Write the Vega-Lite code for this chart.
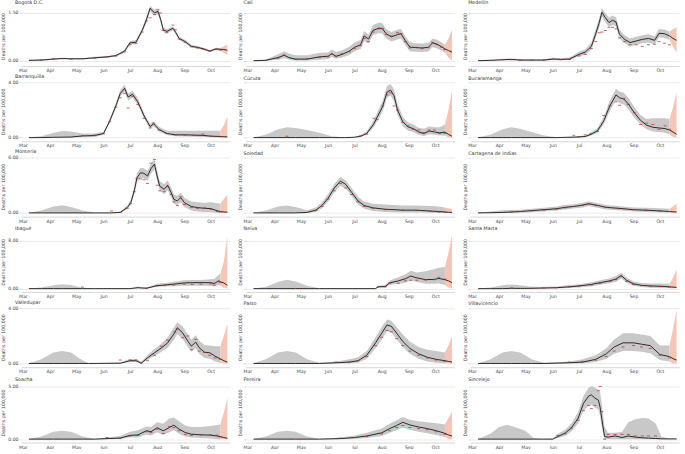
{
"$schema":"https://vega.github.io/schema/vega-lite/v6.json",
"padding":{"left":0,"top":0,"right":0,"bottom":0},
"data":{"format":{"parse":{"d":"date:'%m-%d'"}},"values":[
{"c":"BOG","d":"03-08","m":0.01,"lo":0,"hi":0.03},
{"c":"BOG","d":"03-22","m":0.02,"lo":0,"hi":0.04,"o":0.02},
{"c":"BOG","d":"04-05","m":0.05,"lo":0.03,"hi":0.08,"o":0.06},
{"c":"BOG","d":"04-15","m":0.07,"lo":0.05,"hi":0.09,"o":0.06},
{"c":"BOG","d":"04-25","m":0.06,"lo":0.04,"hi":0.08,"o":0.05},
{"c":"BOG","d":"05-08","m":0.06,"lo":0.04,"hi":0.08,"o":0.07},
{"c":"BOG","d":"05-22","m":0.09,"lo":0.07,"hi":0.12,"o":0.08},
{"c":"BOG","d":"06-05","m":0.12,"lo":0.09,"hi":0.15,"o":0.12},
{"c":"BOG","d":"06-15","m":0.16,"lo":0.12,"hi":0.19,"o":0.15},
{"c":"BOG","d":"06-25","m":0.3,"lo":0.25,"hi":0.35,"o":0.28},
{"c":"BOG","d":"07-01","m":0.56,"lo":0.5,"hi":0.62,"o":0.5},
{"c":"BOG","d":"07-08","m":0.58,"lo":0.52,"hi":0.65,"o":0.55},
{"c":"BOG","d":"07-15","m":0.95,"lo":0.88,"hi":1.03,"o":0.9},
{"c":"BOG","d":"07-20","m":1.3,"lo":1.2,"hi":1.4,"o":1.25},
{"c":"BOG","d":"07-24","m":1.65,"lo":1.55,"hi":1.72,"o":1.35},
{"c":"BOG","d":"07-29","m":1.5,"lo":1.42,"hi":1.6,"o":1.45},
{"c":"BOG","d":"08-02","m":1.55,"lo":1.45,"hi":1.65,"o":1.6},
{"c":"BOG","d":"08-05","m":1.3,"lo":1.2,"hi":1.4,"o":1.5},
{"c":"BOG","d":"08-08","m":0.97,"lo":0.9,"hi":1.05,"o":0.95},
{"c":"BOG","d":"08-12","m":0.92,"lo":0.86,"hi":0.99,"o":0.88},
{"c":"BOG","d":"08-19","m":1.02,"lo":0.95,"hi":1.08,"o":1.12},
{"c":"BOG","d":"08-22","m":0.9,"lo":0.84,"hi":0.96,"o":0.97},
{"c":"BOG","d":"08-26","m":0.7,"lo":0.65,"hi":0.76,"o":0.68},
{"c":"BOG","d":"09-02","m":0.6,"lo":0.55,"hi":0.65,"o":0.58},
{"c":"BOG","d":"09-09","m":0.45,"lo":0.41,"hi":0.5,"o":0.44},
{"c":"BOG","d":"09-16","m":0.42,"lo":0.38,"hi":0.46,"o":0.4},
{"c":"BOG","d":"09-23","m":0.37,"lo":0.33,"hi":0.41,"o":0.36},
{"c":"BOG","d":"09-30","m":0.3,"lo":0.27,"hi":0.34,"o":0.3},
{"c":"BOG","d":"10-07","m":0.37,"lo":0.33,"hi":0.41,"o":0.36},
{"c":"BOG","d":"10-12","m":0.36,"lo":0.32,"hi":0.4,"fl":0.32,"fh":0.4,"o":0.33},
{"c":"BOG","d":"10-16","m":0.35,"fl":0.25,"fh":0.45},
{"c":"BOG","d":"10-20","m":0.33,"fl":0.18,"fh":0.5},
{"c":"CAL","d":"03-08","m":0,"lo":0,"hi":0.01},
{"c":"CAL","d":"03-22","m":0.01,"lo":0,"hi":0.04,"o":0.01},
{"c":"CAL","d":"04-05","m":0.1,"lo":0.03,"hi":0.2,"o":0.08},
{"c":"CAL","d":"04-12","m":0.17,"lo":0.08,"hi":0.3,"o":0.18},
{"c":"CAL","d":"04-18","m":0.09,"lo":0.03,"hi":0.22,"o":0.1},
{"c":"CAL","d":"04-25","m":0.05,"lo":0,"hi":0.17,"o":0.04},
{"c":"CAL","d":"05-08","m":0.05,"lo":0,"hi":0.17,"o":0.06},
{"c":"CAL","d":"05-22","m":0.12,"lo":0.03,"hi":0.25,"o":0.1},
{"c":"CAL","d":"06-01","m":0.14,"lo":0.05,"hi":0.26,"o":0.12},
{"c":"CAL","d":"06-05","m":0.22,"lo":0.12,"hi":0.35,"o":0.2},
{"c":"CAL","d":"06-10","m":0.14,"lo":0.06,"hi":0.27,"o":0.13},
{"c":"CAL","d":"06-17","m":0.2,"lo":0.1,"hi":0.33,"o":0.22},
{"c":"CAL","d":"06-25","m":0.3,"lo":0.18,"hi":0.44,"o":0.28},
{"c":"CAL","d":"07-01","m":0.42,"lo":0.3,"hi":0.57,"o":0.38},
{"c":"CAL","d":"07-08","m":0.5,"lo":0.37,"hi":0.65,"o":0.47},
{"c":"CAL","d":"07-12","m":0.78,"lo":0.62,"hi":0.93,"o":0.7},
{"c":"CAL","d":"07-17","m":0.68,"lo":0.53,"hi":0.82,"o":0.6},
{"c":"CAL","d":"07-22","m":0.95,"lo":0.8,"hi":1.12,"o":0.9},
{"c":"CAL","d":"07-29","m":1.03,"lo":0.87,"hi":1.2,"o":1.0},
{"c":"CAL","d":"08-02","m":1.0,"lo":0.85,"hi":1.17,"o":1.02},
{"c":"CAL","d":"08-06","m":0.85,"lo":0.7,"hi":1.0,"o":0.82},
{"c":"CAL","d":"08-12","m":0.75,"lo":0.6,"hi":0.9,"o":0.78},
{"c":"CAL","d":"08-19","m":0.82,"lo":0.67,"hi":0.97,"o":0.88},
{"c":"CAL","d":"08-23","m":0.85,"lo":0.7,"hi":1.0,"o":0.85},
{"c":"CAL","d":"08-28","m":0.62,"lo":0.48,"hi":0.77,"o":0.6},
{"c":"CAL","d":"09-02","m":0.43,"lo":0.3,"hi":0.58,"o":0.4},
{"c":"CAL","d":"09-09","m":0.41,"lo":0.28,"hi":0.55,"o":0.42},
{"c":"CAL","d":"09-16","m":0.4,"lo":0.27,"hi":0.54,"o":0.38},
{"c":"CAL","d":"09-23","m":0.42,"lo":0.29,"hi":0.56,"o":0.41},
{"c":"CAL","d":"09-28","m":0.56,"lo":0.42,"hi":0.7,"o":0.58},
{"c":"CAL","d":"10-03","m":0.52,"lo":0.38,"hi":0.66,"o":0.5},
{"c":"CAL","d":"10-08","m":0.44,"lo":0.31,"hi":0.58,"o":0.43},
{"c":"CAL","d":"10-12","m":0.37,"lo":0.25,"hi":0.5,"fl":0.25,"fh":0.5,"o":0.35},
{"c":"CAL","d":"10-16","m":0.32,"fl":0.1,"fh":0.7},
{"c":"CAL","d":"10-20","m":0.27,"fl":0,"fh":0.97},
{"c":"MED","d":"03-08","m":0,"lo":0,"hi":0.02},
{"c":"MED","d":"03-22","m":0.01,"lo":0,"hi":0.03,"o":0.01},
{"c":"MED","d":"04-05","m":0.03,"lo":0.01,"hi":0.06,"o":0.03},
{"c":"MED","d":"04-15","m":0.04,"lo":0.01,"hi":0.07,"o":0.03},
{"c":"MED","d":"04-25","m":0.02,"lo":0,"hi":0.05,"o":0.02},
{"c":"MED","d":"05-08","m":0.02,"lo":0,"hi":0.04,"o":0.02},
{"c":"MED","d":"05-22","m":0.02,"lo":0,"hi":0.04,"o":0.02},
{"c":"MED","d":"06-01","m":0.05,"lo":0.02,"hi":0.1,"o":0.04},
{"c":"MED","d":"06-10","m":0.04,"lo":0.01,"hi":0.08,"o":0.03},
{"c":"MED","d":"06-20","m":0.05,"lo":0.02,"hi":0.1,"o":0.04},
{"c":"MED","d":"07-01","m":0.2,"lo":0.13,"hi":0.28,"o":0.15},
{"c":"MED","d":"07-08","m":0.27,"lo":0.19,"hi":0.36,"o":0.2},
{"c":"MED","d":"07-15","m":0.45,"lo":0.35,"hi":0.57,"o":0.38},
{"c":"MED","d":"07-20","m":0.85,"lo":0.72,"hi":1.0,"o":0.6},
{"c":"MED","d":"07-24","m":1.2,"lo":1.05,"hi":1.35,"o":0.88},
{"c":"MED","d":"07-27","m":1.52,"lo":1.38,"hi":1.66,"o":0.9},
{"c":"MED","d":"07-31","m":1.35,"lo":1.2,"hi":1.5,"o":0.95},
{"c":"MED","d":"08-04","m":1.2,"lo":1.06,"hi":1.35,"o":1.05},
{"c":"MED","d":"08-08","m":1.27,"lo":1.12,"hi":1.42,"o":1.05},
{"c":"MED","d":"08-12","m":1.22,"lo":1.08,"hi":1.37,"o":1.0},
{"c":"MED","d":"08-16","m":0.83,"lo":0.7,"hi":0.97,"o":0.72},
{"c":"MED","d":"08-22","m":0.67,"lo":0.55,"hi":0.8,"o":0.6},
{"c":"MED","d":"08-28","m":0.57,"lo":0.45,"hi":0.7,"o":0.5},
{"c":"MED","d":"09-04","m":0.62,"lo":0.5,"hi":0.75,"o":0.5},
{"c":"MED","d":"09-11","m":0.67,"lo":0.55,"hi":0.8,"o":0.45},
{"c":"MED","d":"09-18","m":0.7,"lo":0.57,"hi":0.83,"o":0.5},
{"c":"MED","d":"09-25","m":0.64,"lo":0.52,"hi":0.77,"o":0.52},
{"c":"MED","d":"09-30","m":0.86,"lo":0.73,"hi":1.0,"o":0.6},
{"c":"MED","d":"10-06","m":0.85,"lo":0.72,"hi":0.98,"o":0.55},
{"c":"MED","d":"10-12","m":0.78,"lo":0.65,"hi":0.92,"fl":0.65,"fh":0.92,"o":0.5},
{"c":"MED","d":"10-16","m":0.7,"fl":0.45,"fh":1.0},
{"c":"MED","d":"10-20","m":0.64,"fl":0.25,"fh":1.05},
{"c":"BAQ","d":"03-08","m":0,"lo":0,"hi":0.02},
{"c":"BAQ","d":"03-22","m":0,"lo":0,"hi":0.1},
{"c":"BAQ","d":"04-05","m":0.02,"lo":0,"hi":0.35},
{"c":"BAQ","d":"04-15","m":0.03,"lo":0,"hi":0.48},
{"c":"BAQ","d":"04-25","m":0.04,"lo":0,"hi":0.45},
{"c":"BAQ","d":"05-08","m":0.12,"lo":0.02,"hi":0.3,"o":0.15},
{"c":"BAQ","d":"05-22","m":0.15,"lo":0.05,"hi":0.3,"o":0.18},
{"c":"BAQ","d":"06-01","m":0.3,"lo":0.2,"hi":0.42,"o":0.28},
{"c":"BAQ","d":"06-08","m":1.2,"lo":1.05,"hi":1.35,"o":1.15},
{"c":"BAQ","d":"06-15","m":2.3,"lo":2.1,"hi":2.5,"o":2.2},
{"c":"BAQ","d":"06-20","m":3.2,"lo":3.0,"hi":3.45,"o":2.9},
{"c":"BAQ","d":"06-25","m":3.58,"lo":3.35,"hi":3.85,"o":3.2},
{"c":"BAQ","d":"06-29","m":2.95,"lo":2.7,"hi":3.2,"o":2.15},
{"c":"BAQ","d":"07-04","m":3.15,"lo":2.9,"hi":3.4,"o":3.0},
{"c":"BAQ","d":"07-10","m":2.6,"lo":2.35,"hi":2.85,"o":2.4},
{"c":"BAQ","d":"07-17","m":1.6,"lo":1.4,"hi":1.8,"o":1.4},
{"c":"BAQ","d":"07-24","m":0.8,"lo":0.65,"hi":0.98,"o":0.7},
{"c":"BAQ","d":"07-28","m":1.0,"lo":0.85,"hi":1.18,"o":1.05},
{"c":"BAQ","d":"08-03","m":0.6,"lo":0.45,"hi":0.78,"o":0.55},
{"c":"BAQ","d":"08-12","m":0.3,"lo":0.18,"hi":0.5,"o":0.3},
{"c":"BAQ","d":"08-22","m":0.2,"lo":0.1,"hi":0.5,"o":0.2},
{"c":"BAQ","d":"09-02","m":0.2,"lo":0.08,"hi":0.5,"o":0.18},
{"c":"BAQ","d":"09-12","m":0.18,"lo":0.06,"hi":0.5,"o":0.15},
{"c":"BAQ","d":"09-22","m":0.16,"lo":0.05,"hi":0.5,"o":0.25},
{"c":"BAQ","d":"10-02","m":0.1,"lo":0.02,"hi":0.5,"o":0.1},
{"c":"BAQ","d":"10-12","m":0.08,"lo":0,"hi":0.5,"fl":0,"fh":0.5,"o":0.06},
{"c":"BAQ","d":"10-16","m":0.06,"fl":0,"fh":0.9},
{"c":"BAQ","d":"10-20","m":0.05,"fl":0,"fh":1.55},
{"c":"CUC","d":"03-08","m":0,"lo":0,"hi":0.02},
{"c":"CUC","d":"03-22","m":0,"lo":0,"hi":0.2},
{"c":"CUC","d":"04-05","m":0,"lo":0,"hi":0.6},
{"c":"CUC","d":"04-15","m":0,"lo":0,"hi":0.75,"o":0.1},
{"c":"CUC","d":"04-25","m":0,"lo":0,"hi":0.7},
{"c":"CUC","d":"05-08","m":0,"lo":0,"hi":0.55},
{"c":"CUC","d":"05-22","m":0,"lo":0,"hi":0.35},
{"c":"CUC","d":"06-05","m":0,"lo":0,"hi":0.1},
{"c":"CUC","d":"06-20","m":0,"lo":0,"hi":0.01},
{"c":"CUC","d":"07-01","m":0.02,"lo":0,"hi":0.06},
{"c":"CUC","d":"07-08","m":0.1,"lo":0.05,"hi":0.18,"o":0.12},
{"c":"CUC","d":"07-15","m":0.3,"lo":0.2,"hi":0.45,"o":0.25},
{"c":"CUC","d":"07-23","m":1.0,"lo":0.75,"hi":1.3,"o":1.4},
{"c":"CUC","d":"07-27","m":1.5,"lo":1.2,"hi":1.85,"o":1.3},
{"c":"CUC","d":"08-02","m":2.25,"lo":1.9,"hi":2.65,"o":2.3},
{"c":"CUC","d":"08-07","m":3.3,"lo":2.9,"hi":3.75,"o":3.1},
{"c":"CUC","d":"08-11","m":3.45,"lo":3.05,"hi":3.9,"o":3.25},
{"c":"CUC","d":"08-15","m":3.05,"lo":2.65,"hi":3.5,"o":2.3},
{"c":"CUC","d":"08-19","m":2.0,"lo":1.65,"hi":2.45,"o":2.0},
{"c":"CUC","d":"08-25","m":1.15,"lo":0.85,"hi":1.5,"o":1.1},
{"c":"CUC","d":"08-31","m":0.78,"lo":0.5,"hi":1.1,"o":0.85},
{"c":"CUC","d":"09-06","m":0.65,"lo":0.4,"hi":0.95,"o":0.6},
{"c":"CUC","d":"09-12","m":0.41,"lo":0.2,"hi":0.72,"o":0.55},
{"c":"CUC","d":"09-18","m":0.3,"lo":0.12,"hi":0.65,"o":0.35},
{"c":"CUC","d":"09-24","m":0.48,"lo":0.25,"hi":0.8,"o":0.55},
{"c":"CUC","d":"09-30","m":0.41,"lo":0.2,"hi":0.75,"o":0.55},
{"c":"CUC","d":"10-06","m":0.34,"lo":0.15,"hi":0.75,"o":0.3},
{"c":"CUC","d":"10-12","m":0.4,"lo":0.15,"hi":0.95,"fl":0.15,"fh":0.95,"o":0.3},
{"c":"CUC","d":"10-16","m":0.24,"fl":0,"fh":2.0},
{"c":"CUC","d":"10-20","m":0.1,"fl":0,"fh":3.4},
{"c":"BUC","d":"03-08","m":0,"lo":0,"hi":0.02},
{"c":"BUC","d":"03-22","m":0,"lo":0,"hi":0.2},
{"c":"BUC","d":"04-05","m":0,"lo":0,"hi":0.6},
{"c":"BUC","d":"04-15","m":0,"lo":0,"hi":0.75},
{"c":"BUC","d":"04-25","m":0,"lo":0,"hi":0.65},
{"c":"BUC","d":"05-08","m":0,"lo":0,"hi":0.4},
{"c":"BUC","d":"05-22","m":0,"lo":0,"hi":0.15},
{"c":"BUC","d":"06-05","m":0,"lo":0,"hi":0.02},
{"c":"BUC","d":"06-25","m":0.03,"lo":0,"hi":0.08,"o":0.17},
{"c":"BUC","d":"07-01","m":0.05,"lo":0,"hi":0.12,"o":0.05},
{"c":"BUC","d":"07-08","m":0.08,"lo":0.02,"hi":0.16,"o":0.2},
{"c":"BUC","d":"07-15","m":0.25,"lo":0.15,"hi":0.38,"o":0.3},
{"c":"BUC","d":"07-22","m":0.5,"lo":0.35,"hi":0.7,"o":0.45},
{"c":"BUC","d":"07-29","m":1.2,"lo":0.95,"hi":1.5,"o":1.6},
{"c":"BUC","d":"08-05","m":2.3,"lo":1.95,"hi":2.7,"o":2.3},
{"c":"BUC","d":"08-12","m":3.1,"lo":2.7,"hi":3.55,"o":2.6},
{"c":"BUC","d":"08-16","m":2.9,"lo":2.5,"hi":3.35,"o":2.35},
{"c":"BUC","d":"08-21","m":2.8,"lo":2.4,"hi":3.25,"o":2.85},
{"c":"BUC","d":"08-26","m":2.45,"lo":2.05,"hi":2.9,"o":2.4},
{"c":"BUC","d":"09-02","m":1.8,"lo":1.45,"hi":2.2,"o":1.8},
{"c":"BUC","d":"09-09","m":1.25,"lo":0.95,"hi":1.65,"o":0.95},
{"c":"BUC","d":"09-16","m":0.9,"lo":0.6,"hi":1.35,"o":1.05},
{"c":"BUC","d":"09-23","m":0.75,"lo":0.45,"hi":1.4,"o":0.95},
{"c":"BUC","d":"09-30","m":0.7,"lo":0.4,"hi":1.4,"o":0.6},
{"c":"BUC","d":"10-07","m":0.65,"lo":0.35,"hi":1.4,"o":0.85},
{"c":"BUC","d":"10-12","m":0.55,"lo":0.25,"hi":1.35,"fl":0.25,"fh":1.35,"o":0.6},
{"c":"BUC","d":"10-16","m":0.4,"fl":0.05,"fh":2.2},
{"c":"BUC","d":"10-20","m":0.25,"fl":0,"fh":3.3},
{"c":"MTR","d":"03-08","m":0,"lo":0,"hi":0.02},
{"c":"MTR","d":"03-22","m":0,"lo":0,"hi":0.25},
{"c":"MTR","d":"04-05","m":0,"lo":0,"hi":0.7},
{"c":"MTR","d":"04-15","m":0,"lo":0,"hi":0.82},
{"c":"MTR","d":"04-25","m":0,"lo":0,"hi":0.65},
{"c":"MTR","d":"05-08","m":0,"lo":0,"hi":0.25},
{"c":"MTR","d":"05-22","m":0,"lo":0,"hi":0.02},
{"c":"MTR","d":"06-10","m":0,"lo":0,"hi":0.02,"o":0.2},
{"c":"MTR","d":"06-20","m":0.05,"lo":0,"hi":0.15,"o":0.05},
{"c":"MTR","d":"06-28","m":0.58,"lo":0.4,"hi":0.8,"o":0.5},
{"c":"MTR","d":"07-02","m":1.1,"lo":0.85,"hi":1.4,"o":1.0},
{"c":"MTR","d":"07-06","m":2.4,"lo":2.0,"hi":2.85,"o":2.3},
{"c":"MTR","d":"07-09","m":3.8,"lo":3.3,"hi":4.3,"o":3.75},
{"c":"MTR","d":"07-13","m":4.35,"lo":3.8,"hi":4.9,"o":3.7},
{"c":"MTR","d":"07-17","m":4.3,"lo":3.75,"hi":4.85,"o":3.6},
{"c":"MTR","d":"07-21","m":4.0,"lo":3.45,"hi":4.55,"o":3.2},
{"c":"MTR","d":"07-25","m":4.8,"lo":4.25,"hi":5.35,"o":5.4},
{"c":"MTR","d":"07-29","m":5.3,"lo":4.75,"hi":5.85,"o":5.8},
{"c":"MTR","d":"08-01","m":4.0,"lo":3.45,"hi":4.6,"o":3.0},
{"c":"MTR","d":"08-04","m":2.9,"lo":2.4,"hi":3.45,"o":2.4},
{"c":"MTR","d":"08-09","m":2.56,"lo":2.05,"hi":3.1,"o":2.3},
{"c":"MTR","d":"08-13","m":3.0,"lo":2.45,"hi":3.55,"o":2.85},
{"c":"MTR","d":"08-17","m":2.2,"lo":1.7,"hi":2.75,"o":2.0},
{"c":"MTR","d":"08-20","m":1.48,"lo":1.0,"hi":2.0,"o":1.2},
{"c":"MTR","d":"08-24","m":1.3,"lo":0.85,"hi":1.85,"o":0.8},
{"c":"MTR","d":"08-28","m":1.66,"lo":1.15,"hi":2.2,"o":1.75},
{"c":"MTR","d":"09-01","m":1.12,"lo":0.65,"hi":1.65,"o":0.9},
{"c":"MTR","d":"09-09","m":0.69,"lo":0.25,"hi":1.25,"o":0.6},
{"c":"MTR","d":"09-16","m":0.58,"lo":0.15,"hi":1.15,"o":0.5},
{"c":"MTR","d":"09-24","m":0.5,"lo":0.1,"hi":1.1,"o":0.55},
{"c":"MTR","d":"10-01","m":0.47,"lo":0.08,"hi":1.15,"o":0.4},
{"c":"MTR","d":"10-09","m":0.22,"lo":0,"hi":1.05,"o":0.15},
{"c":"MTR","d":"10-12","m":0.15,"lo":0,"hi":1.0,"fl":0,"fh":1.0,"o":0.1},
{"c":"MTR","d":"10-16","m":0.1,"fl":0,"fh":1.5},
{"c":"MTR","d":"10-20","m":0.08,"fl":0,"fh":2.0},
{"c":"SOL","d":"03-08","m":0,"lo":0,"hi":0.02},
{"c":"SOL","d":"03-22","m":0,"lo":0,"hi":0.25},
{"c":"SOL","d":"04-05","m":0,"lo":0,"hi":0.7},
{"c":"SOL","d":"04-15","m":0,"lo":0,"hi":0.8},
{"c":"SOL","d":"04-25","m":0,"lo":0,"hi":0.65},
{"c":"SOL","d":"05-08","m":0.05,"lo":0,"hi":0.3},
{"c":"SOL","d":"05-18","m":0.3,"lo":0.1,"hi":0.6,"o":0.25},
{"c":"SOL","d":"05-25","m":0.8,"lo":0.5,"hi":1.15,"o":0.7},
{"c":"SOL","d":"06-01","m":1.6,"lo":1.2,"hi":2.05,"o":1.5},
{"c":"SOL","d":"06-08","m":2.7,"lo":2.25,"hi":3.15,"o":2.4},
{"c":"SOL","d":"06-15","m":3.45,"lo":2.95,"hi":3.9,"o":3.2},
{"c":"SOL","d":"06-21","m":3.1,"lo":2.65,"hi":3.55,"o":2.7},
{"c":"SOL","d":"06-28","m":2.2,"lo":1.75,"hi":2.65,"o":2.0},
{"c":"SOL","d":"07-05","m":1.3,"lo":0.9,"hi":1.75,"o":1.2},
{"c":"SOL","d":"07-12","m":0.8,"lo":0.45,"hi":1.25,"o":0.7},
{"c":"SOL","d":"07-22","m":0.55,"lo":0.2,"hi":1.0,"o":0.5},
{"c":"SOL","d":"08-05","m":0.4,"lo":0.1,"hi":0.9,"o":0.35},
{"c":"SOL","d":"08-25","m":0.3,"lo":0.05,"hi":0.8,"o":0.3},
{"c":"SOL","d":"09-10","m":0.3,"lo":0.05,"hi":0.8,"o":0.25},
{"c":"SOL","d":"09-25","m":0.2,"lo":0.02,"hi":0.75,"o":0.2},
{"c":"SOL","d":"10-05","m":0.15,"lo":0,"hi":0.7,"o":0.1},
{"c":"SOL","d":"10-12","m":0.1,"lo":0,"hi":0.6,"fl":0,"fh":0.6,"o":0.08},
{"c":"SOL","d":"10-16","m":0.07,"fl":0,"fh":0.5},
{"c":"SOL","d":"10-20","m":0.05,"fl":0,"fh":0.45},
{"c":"CTG","d":"03-08","m":0,"lo":0,"hi":0.02},
{"c":"CTG","d":"03-22","m":0.02,"lo":0,"hi":0.15},
{"c":"CTG","d":"04-05","m":0.05,"lo":0,"hi":0.3},
{"c":"CTG","d":"04-15","m":0.1,"lo":0,"hi":0.35,"o":0.1},
{"c":"CTG","d":"04-25","m":0.15,"lo":0.02,"hi":0.35,"o":0.15},
{"c":"CTG","d":"05-08","m":0.25,"lo":0.08,"hi":0.45,"o":0.22},
{"c":"CTG","d":"05-22","m":0.35,"lo":0.15,"hi":0.55,"o":0.3},
{"c":"CTG","d":"06-05","m":0.45,"lo":0.25,"hi":0.7,"o":0.4},
{"c":"CTG","d":"06-15","m":0.6,"lo":0.38,"hi":0.85,"o":0.55},
{"c":"CTG","d":"06-25","m":0.7,"lo":0.48,"hi":0.95,"o":0.7},
{"c":"CTG","d":"07-05","m":0.85,"lo":0.6,"hi":1.1,"o":0.8},
{"c":"CTG","d":"07-12","m":1.0,"lo":0.75,"hi":1.25,"o":0.95},
{"c":"CTG","d":"07-20","m":0.85,"lo":0.6,"hi":1.1,"o":0.8},
{"c":"CTG","d":"08-01","m":0.6,"lo":0.38,"hi":0.85,"o":0.6},
{"c":"CTG","d":"08-15","m":0.5,"lo":0.28,"hi":0.75,"o":0.45},
{"c":"CTG","d":"09-01","m":0.35,"lo":0.15,"hi":0.6,"o":0.35},
{"c":"CTG","d":"09-15","m":0.3,"lo":0.1,"hi":0.55,"o":0.3},
{"c":"CTG","d":"10-01","m":0.22,"lo":0.05,"hi":0.5,"o":0.2},
{"c":"CTG","d":"10-12","m":0.15,"lo":0.02,"hi":0.45,"fl":0.02,"fh":0.45,"o":0.15},
{"c":"CTG","d":"10-16","m":0.12,"fl":0,"fh":0.7},
{"c":"CTG","d":"10-20","m":0.1,"fl":0,"fh":1.0},
{"c":"IBG","d":"03-08","m":0,"lo":0,"hi":0.02},
{"c":"IBG","d":"03-22","m":0,"lo":0,"hi":0.2},
{"c":"IBG","d":"04-05","m":0,"lo":0,"hi":0.55},
{"c":"IBG","d":"04-15","m":0,"lo":0,"hi":0.72},
{"c":"IBG","d":"04-25","m":0,"lo":0,"hi":0.6},
{"c":"IBG","d":"05-08","m":0,"lo":0,"hi":0.15,"o":0.25},
{"c":"IBG","d":"05-22","m":0,"lo":0,"hi":0.02},
{"c":"IBG","d":"07-01","m":0,"lo":0,"hi":0.05},
{"c":"IBG","d":"07-10","m":0.15,"lo":0.05,"hi":0.3,"o":0.2},
{"c":"IBG","d":"07-20","m":0.05,"lo":0,"hi":0.2,"o":0.1},
{"c":"IBG","d":"08-01","m":0.5,"lo":0.3,"hi":0.8,"o":0.45},
{"c":"IBG","d":"08-10","m":0.6,"lo":0.35,"hi":0.95,"o":0.55},
{"c":"IBG","d":"08-20","m":0.75,"lo":0.4,"hi":1.15,"o":0.6},
{"c":"IBG","d":"09-01","m":0.95,"lo":0.5,"hi":1.4,"o":0.75},
{"c":"IBG","d":"09-10","m":1.0,"lo":0.5,"hi":1.45,"o":0.7},
{"c":"IBG","d":"09-20","m":1.0,"lo":0.5,"hi":1.45,"o":0.75},
{"c":"IBG","d":"10-01","m":1.0,"lo":0.45,"hi":1.55,"o":0.8},
{"c":"IBG","d":"10-05","m":0.85,"lo":0.35,"hi":1.6,"o":0.6},
{"c":"IBG","d":"10-10","m":1.3,"lo":0.6,"hi":2.3,"o":1.2},
{"c":"IBG","d":"10-12","m":1.15,"lo":0.5,"hi":2.5,"fl":0.5,"fh":2.5,"o":1.0},
{"c":"IBG","d":"10-16","m":0.95,"fl":0.2,"fh":4.5},
{"c":"IBG","d":"10-20","m":0.55,"fl":0,"fh":8.8},
{"c":"NEI","d":"03-08","m":0,"lo":0,"hi":0.02},
{"c":"NEI","d":"03-22","m":0,"lo":0,"hi":0.3},
{"c":"NEI","d":"04-05","m":0,"lo":0,"hi":1.1},
{"c":"NEI","d":"04-15","m":0,"lo":0,"hi":1.5},
{"c":"NEI","d":"04-25","m":0,"lo":0,"hi":1.2},
{"c":"NEI","d":"05-08","m":0,"lo":0,"hi":0.5},
{"c":"NEI","d":"05-22","m":0,"lo":0,"hi":0.05},
{"c":"NEI","d":"07-25","m":0,"lo":0,"hi":0.05},
{"c":"NEI","d":"07-28","m":0.3,"lo":0.15,"hi":0.5,"o":0.3},
{"c":"NEI","d":"08-05","m":0.35,"lo":0.15,"hi":0.6,"o":0.3},
{"c":"NEI","d":"08-10","m":0.95,"lo":0.6,"hi":1.35,"o":0.9},
{"c":"NEI","d":"08-20","m":1.3,"lo":0.8,"hi":1.9,"o":0.9},
{"c":"NEI","d":"08-28","m":1.65,"lo":1.0,"hi":2.4,"o":1.3},
{"c":"NEI","d":"09-03","m":2.1,"lo":1.35,"hi":3.0,"o":1.4},
{"c":"NEI","d":"09-10","m":1.8,"lo":1.1,"hi":2.7,"o":1.4},
{"c":"NEI","d":"09-20","m":1.5,"lo":0.8,"hi":2.9,"o":1.45},
{"c":"NEI","d":"09-30","m":1.55,"lo":0.8,"hi":3.3,"o":1.5},
{"c":"NEI","d":"10-05","m":1.7,"lo":0.85,"hi":3.5,"o":1.9},
{"c":"NEI","d":"10-12","m":1.5,"lo":0.6,"hi":3.6,"fl":0.6,"fh":3.6,"o":1.6},
{"c":"NEI","d":"10-16","m":1.3,"fl":0.2,"fh":6.0},
{"c":"NEI","d":"10-20","m":1.0,"fl":0,"fh":8.9},
{"c":"SMR","d":"03-08","m":0,"lo":0,"hi":0.02},
{"c":"SMR","d":"03-22","m":0,"lo":0,"hi":0.2},
{"c":"SMR","d":"04-05","m":0,"lo":0,"hi":0.55},
{"c":"SMR","d":"04-15","m":0.05,"lo":0,"hi":0.7,"o":0.1},
{"c":"SMR","d":"04-25","m":0.03,"lo":0,"hi":0.55},
{"c":"SMR","d":"05-08","m":0.05,"lo":0,"hi":0.3,"o":0.05},
{"c":"SMR","d":"05-22","m":0.1,"lo":0,"hi":0.3,"o":0.1},
{"c":"SMR","d":"06-05","m":0.15,"lo":0.02,"hi":0.35,"o":0.15},
{"c":"SMR","d":"06-20","m":0.3,"lo":0.1,"hi":0.6,"o":0.3},
{"c":"SMR","d":"07-01","m":0.45,"lo":0.2,"hi":0.75,"o":0.4},
{"c":"SMR","d":"07-15","m":0.7,"lo":0.4,"hi":1.05,"o":0.6},
{"c":"SMR","d":"07-25","m":1.0,"lo":0.65,"hi":1.4,"o":0.9},
{"c":"SMR","d":"08-05","m":1.3,"lo":0.9,"hi":1.75,"o":1.2},
{"c":"SMR","d":"08-12","m":1.6,"lo":1.15,"hi":2.1,"o":1.5},
{"c":"SMR","d":"08-18","m":2.2,"lo":1.7,"hi":2.7,"o":2.0},
{"c":"SMR","d":"08-24","m":1.4,"lo":1.0,"hi":1.85,"o":1.2},
{"c":"SMR","d":"09-01","m":0.8,"lo":0.45,"hi":1.2,"o":0.7},
{"c":"SMR","d":"09-10","m":0.55,"lo":0.25,"hi":0.95,"o":0.5},
{"c":"SMR","d":"09-20","m":0.45,"lo":0.15,"hi":0.85,"o":0.4},
{"c":"SMR","d":"10-01","m":0.4,"lo":0.1,"hi":0.85,"o":0.35},
{"c":"SMR","d":"10-12","m":0.3,"lo":0.05,"hi":0.8,"fl":0.05,"fh":0.8,"o":0.25},
{"c":"SMR","d":"10-16","m":0.25,"fl":0,"fh":1.8},
{"c":"SMR","d":"10-20","m":0.2,"fl":0,"fh":3.2},
{"c":"VDP","d":"03-08","m":0,"lo":0,"hi":0.02},
{"c":"VDP","d":"03-22","m":0,"lo":0,"hi":0.3},
{"c":"VDP","d":"04-05","m":0,"lo":0,"hi":0.8},
{"c":"VDP","d":"04-15","m":0,"lo":0,"hi":0.9},
{"c":"VDP","d":"04-25","m":0,"lo":0,"hi":0.8},
{"c":"VDP","d":"05-05","m":0,"lo":0,"hi":0.35},
{"c":"VDP","d":"05-15","m":0,"lo":0,"hi":0.02},
{"c":"VDP","d":"06-20","m":0.02,"lo":0,"hi":0.08,"o":0.25},
{"c":"VDP","d":"07-01","m":0.2,"lo":0.1,"hi":0.32,"o":0.25},
{"c":"VDP","d":"07-08","m":0.2,"lo":0.1,"hi":0.33,"o":0.25},
{"c":"VDP","d":"07-14","m":0.02,"lo":0,"hi":0.12,"o":0.05},
{"c":"VDP","d":"07-21","m":0.41,"lo":0.25,"hi":0.6,"o":0.2},
{"c":"VDP","d":"07-29","m":0.78,"lo":0.55,"hi":1.05,"o":0.6},
{"c":"VDP","d":"08-06","m":1.14,"lo":0.85,"hi":1.45,"o":1.25},
{"c":"VDP","d":"08-13","m":1.5,"lo":1.15,"hi":1.9,"o":1.7},
{"c":"VDP","d":"08-21","m":2.23,"lo":1.8,"hi":2.7,"o":2.3},
{"c":"VDP","d":"08-24","m":2.6,"lo":2.15,"hi":3.0,"o":2.5},
{"c":"VDP","d":"08-30","m":2.23,"lo":1.8,"hi":2.7,"o":1.87},
{"c":"VDP","d":"09-05","m":1.62,"lo":1.2,"hi":2.1,"o":2.0},
{"c":"VDP","d":"09-09","m":1.26,"lo":0.85,"hi":1.75,"o":1.0},
{"c":"VDP","d":"09-14","m":1.55,"lo":1.1,"hi":2.05,"o":1.75},
{"c":"VDP","d":"09-18","m":1.14,"lo":0.7,"hi":1.65,"o":0.9},
{"c":"VDP","d":"09-24","m":0.82,"lo":0.4,"hi":1.35,"o":0.8},
{"c":"VDP","d":"09-30","m":0.78,"lo":0.35,"hi":1.3,"o":0.6},
{"c":"VDP","d":"10-06","m":0.53,"lo":0.15,"hi":1.25,"o":0.4},
{"c":"VDP","d":"10-12","m":0.34,"lo":0.05,"hi":1.25,"fl":0.05,"fh":1.25,"o":0.3},
{"c":"VDP","d":"10-16","m":0.2,"fl":0,"fh":2.0},
{"c":"VDP","d":"10-20","m":0.1,"fl":0,"fh":2.9},
{"c":"PST","d":"03-08","m":0,"lo":0,"hi":0.02},
{"c":"PST","d":"03-22","m":0,"lo":0,"hi":0.3},
{"c":"PST","d":"04-05","m":0,"lo":0,"hi":0.8},
{"c":"PST","d":"04-15","m":0,"lo":0,"hi":0.9},
{"c":"PST","d":"04-25","m":0,"lo":0,"hi":0.8},
{"c":"PST","d":"05-08","m":0,"lo":0,"hi":0.3},
{"c":"PST","d":"05-22","m":0,"lo":0,"hi":0.05},
{"c":"PST","d":"06-10","m":0.05,"lo":0,"hi":0.15,"o":0.1},
{"c":"PST","d":"06-25","m":0.1,"lo":0,"hi":0.3,"o":0.1},
{"c":"PST","d":"07-05","m":0.2,"lo":0.05,"hi":0.45,"o":0.2},
{"c":"PST","d":"07-15","m":0.6,"lo":0.35,"hi":0.9,"o":0.5},
{"c":"PST","d":"07-25","m":1.5,"lo":1.1,"hi":1.9,"o":1.3},
{"c":"PST","d":"08-01","m":2.2,"lo":1.75,"hi":2.65,"o":1.9},
{"c":"PST","d":"08-07","m":2.8,"lo":2.35,"hi":3.2,"o":2.4},
{"c":"PST","d":"08-12","m":2.7,"lo":2.25,"hi":3.1,"o":2.3},
{"c":"PST","d":"08-18","m":2.2,"lo":1.75,"hi":2.65,"o":1.8},
{"c":"PST","d":"08-25","m":1.6,"lo":1.2,"hi":2.1,"o":1.3},
{"c":"PST","d":"09-02","m":1.1,"lo":0.7,"hi":1.6,"o":0.9},
{"c":"PST","d":"09-12","m":0.7,"lo":0.35,"hi":1.2,"o":0.6},
{"c":"PST","d":"09-22","m":0.45,"lo":0.15,"hi":1.0,"o":0.4},
{"c":"PST","d":"10-02","m":0.3,"lo":0.05,"hi":0.9,"o":0.25},
{"c":"PST","d":"10-12","m":0.2,"lo":0.02,"hi":0.8,"fl":0.02,"fh":0.8,"o":0.15},
{"c":"PST","d":"10-16","m":0.15,"fl":0,"fh":1.3},
{"c":"PST","d":"10-20","m":0.1,"fl":0,"fh":2.0},
{"c":"VVC","d":"03-08","m":0,"lo":0,"hi":0.02},
{"c":"VVC","d":"03-22","m":0,"lo":0,"hi":0.3},
{"c":"VVC","d":"04-05","m":0,"lo":0,"hi":0.8},
{"c":"VVC","d":"04-15","m":0,"lo":0,"hi":0.9},
{"c":"VVC","d":"04-25","m":0,"lo":0,"hi":0.8},
{"c":"VVC","d":"05-08","m":0,"lo":0,"hi":0.3},
{"c":"VVC","d":"05-22","m":0,"lo":0,"hi":0.05},
{"c":"VVC","d":"06-20","m":0.05,"lo":0,"hi":0.15,"o":0.1},
{"c":"VVC","d":"07-05","m":0.1,"lo":0,"hi":0.3,"o":0.15},
{"c":"VVC","d":"07-20","m":0.3,"lo":0.1,"hi":0.6,"o":0.25},
{"c":"VVC","d":"08-01","m":0.7,"lo":0.35,"hi":1.1,"o":0.5},
{"c":"VVC","d":"08-10","m":1.2,"lo":0.7,"hi":1.75,"o":0.9},
{"c":"VVC","d":"08-20","m":1.5,"lo":0.9,"hi":2.2,"o":1.2},
{"c":"VVC","d":"09-01","m":1.5,"lo":0.9,"hi":2.2,"o":1.3},
{"c":"VVC","d":"09-10","m":1.4,"lo":0.85,"hi":2.1,"o":1.2},
{"c":"VVC","d":"09-20","m":1.3,"lo":0.75,"hi":2.0,"o":1.1},
{"c":"VVC","d":"10-01","m":0.65,"lo":0.25,"hi":1.3,"o":0.6},
{"c":"VVC","d":"10-12","m":0.5,"lo":0.15,"hi":1.3,"fl":0.15,"fh":1.3,"o":0.4},
{"c":"VVC","d":"10-16","m":0.35,"fl":0,"fh":2.5},
{"c":"VVC","d":"10-20","m":0.25,"fl":0,"fh":3.9},
{"c":"SOA","d":"03-08","m":0,"lo":0,"hi":0.02},
{"c":"SOA","d":"03-22","m":0,"lo":0,"hi":0.25},
{"c":"SOA","d":"04-05","m":0,"lo":0,"hi":0.7},
{"c":"SOA","d":"04-15","m":0,"lo":0,"hi":0.8},
{"c":"SOA","d":"04-25","m":0,"lo":0,"hi":0.7},
{"c":"SOA","d":"05-08","m":0,"lo":0,"hi":0.25},
{"c":"SOA","d":"05-22","m":0,"lo":0,"hi":0.02},
{"c":"SOA","d":"06-05","m":0.05,"lo":0,"hi":0.15,"o":0.15},
{"c":"SOA","d":"06-20","m":0.1,"lo":0.02,"hi":0.3,"o":0.08},
{"c":"SOA","d":"07-01","m":0.35,"lo":0.15,"hi":0.7,"o":0.3},
{"c":"SOA","d":"07-10","m":0.4,"lo":0.15,"hi":0.85,"o":0.35},
{"c":"SOA","d":"07-20","m":0.8,"lo":0.45,"hi":1.2,"o":0.7},
{"c":"SOA","d":"07-25","m":0.7,"lo":0.35,"hi":1.15,"o":0.62},
{"c":"SOA","d":"08-01","m":1.08,"lo":0.65,"hi":1.6,"o":0.95},
{"c":"SOA","d":"08-08","m":0.79,"lo":0.4,"hi":1.45,"o":0.55},
{"c":"SOA","d":"08-15","m":1.1,"lo":0.65,"hi":1.95,"o":1.2},
{"c":"SOA","d":"08-20","m":1.33,"lo":0.85,"hi":2.05,"o":1.1},
{"c":"SOA","d":"08-26","m":0.95,"lo":0.5,"hi":1.7,"o":0.8},
{"c":"SOA","d":"09-02","m":0.63,"lo":0.25,"hi":1.3,"o":0.45},
{"c":"SOA","d":"09-09","m":0.47,"lo":0.15,"hi":1.15,"o":0.35},
{"c":"SOA","d":"09-20","m":0.41,"lo":0.1,"hi":1.15,"o":0.4},
{"c":"SOA","d":"10-01","m":0.38,"lo":0.05,"hi":1.25,"o":0.4},
{"c":"SOA","d":"10-08","m":0.3,"lo":0,"hi":1.35,"o":0.38},
{"c":"SOA","d":"10-12","m":0.25,"lo":0,"hi":1.4,"fl":0,"fh":1.4,"o":0.2},
{"c":"SOA","d":"10-16","m":0.15,"fl":0,"fh":2.5},
{"c":"SOA","d":"10-20","m":0.08,"fl":0,"fh":3.9},
{"c":"PEI","d":"03-08","m":0,"lo":0,"hi":0.02},
{"c":"PEI","d":"03-22","m":0,"lo":0,"hi":0.25},
{"c":"PEI","d":"04-05","m":0,"lo":0,"hi":0.7},
{"c":"PEI","d":"04-15","m":0,"lo":0,"hi":0.8},
{"c":"PEI","d":"04-25","m":0,"lo":0,"hi":0.7},
{"c":"PEI","d":"05-08","m":0,"lo":0,"hi":0.25},
{"c":"PEI","d":"05-22","m":0,"lo":0,"hi":0.02},
{"c":"PEI","d":"06-15","m":0.05,"lo":0,"hi":0.15,"o":0.1},
{"c":"PEI","d":"07-01","m":0.15,"lo":0.02,"hi":0.35,"o":0.15},
{"c":"PEI","d":"07-15","m":0.3,"lo":0.1,"hi":0.6,"o":0.25},
{"c":"PEI","d":"08-01","m":0.6,"lo":0.3,"hi":1.0,"o":0.5},
{"c":"PEI","d":"08-10","m":1.0,"lo":0.6,"hi":1.45,"o":0.8},
{"c":"PEI","d":"08-18","m":1.3,"lo":0.85,"hi":1.8,"o":1.1},
{"c":"PEI","d":"08-25","m":1.6,"lo":1.1,"hi":2.1,"o":1.3},
{"c":"PEI","d":"09-02","m":1.35,"lo":0.9,"hi":1.85,"o":1.1},
{"c":"PEI","d":"09-12","m":1.15,"lo":0.7,"hi":1.7,"o":1.0},
{"c":"PEI","d":"09-22","m":1.0,"lo":0.55,"hi":1.6,"o":0.9},
{"c":"PEI","d":"10-02","m":0.8,"lo":0.4,"hi":1.5,"o":0.7},
{"c":"PEI","d":"10-12","m":0.55,"lo":0.2,"hi":1.4,"fl":0.2,"fh":1.4,"o":0.45},
{"c":"PEI","d":"10-16","m":0.4,"fl":0,"fh":2.0},
{"c":"PEI","d":"10-20","m":0.3,"fl":0,"fh":2.6},
{"c":"SIN","d":"03-08","m":0,"lo":0,"hi":0.02},
{"c":"SIN","d":"03-22","m":0,"lo":0,"hi":0.5},
{"c":"SIN","d":"04-01","m":0,"lo":0,"hi":1.15},
{"c":"SIN","d":"04-10","m":0,"lo":0,"hi":1.36},
{"c":"SIN","d":"04-20","m":0,"lo":0,"hi":1.1},
{"c":"SIN","d":"05-01","m":0,"lo":0,"hi":0.8},
{"c":"SIN","d":"05-10","m":0,"lo":0,"hi":0.1},
{"c":"SIN","d":"05-20","m":0,"lo":0,"hi":0.02},
{"c":"SIN","d":"06-01","m":0,"lo":0,"hi":0.05},
{"c":"SIN","d":"06-07","m":0.25,"lo":0.1,"hi":0.5,"o":0.35},
{"c":"SIN","d":"06-15","m":0.57,"lo":0.3,"hi":0.9,"o":0.5},
{"c":"SIN","d":"06-22","m":1.04,"lo":0.7,"hi":1.45,"o":1.05},
{"c":"SIN","d":"06-30","m":2.0,"lo":1.5,"hi":2.6,"o":1.8},
{"c":"SIN","d":"07-06","m":3.4,"lo":2.7,"hi":4.1,"o":2.7},
{"c":"SIN","d":"07-12","m":4.1,"lo":3.2,"hi":4.9,"o":3.2},
{"c":"SIN","d":"07-15","m":4.2,"lo":3.3,"hi":5.05,"o":2.9},
{"c":"SIN","d":"07-19","m":3.9,"lo":3.0,"hi":4.9,"o":3.2},
{"c":"SIN","d":"07-23","m":3.7,"lo":2.8,"hi":4.7,"o":4.6},
{"c":"SIN","d":"07-25","m":3.0,"lo":2.2,"hi":4.4,"o":5.0},
{"c":"SIN","d":"07-27","m":1.84,"lo":1.0,"hi":3.3,"o":2.6},
{"c":"SIN","d":"07-30","m":0.25,"lo":0,"hi":1.2,"o":0},
{"c":"SIN","d":"08-03","m":0.19,"lo":0,"hi":0.6,"o":0.45},
{"c":"SIN","d":"08-11","m":0.3,"lo":0,"hi":0.6,"o":0.45},
{"c":"SIN","d":"08-19","m":0.15,"lo":0,"hi":0.7,"o":0.45},
{"c":"SIN","d":"08-26","m":0.3,"lo":0,"hi":1.6,"o":0.45},
{"c":"SIN","d":"09-03","m":0.19,"lo":0,"hi":1.9,"o":0.3},
{"c":"SIN","d":"09-11","m":0.13,"lo":0,"hi":2.0,"o":0.3},
{"c":"SIN","d":"09-18","m":0.1,"lo":0,"hi":1.95,"o":0.3},
{"c":"SIN","d":"09-26","m":0.06,"lo":0,"hi":1.5,"o":0.3},
{"c":"SIN","d":"10-03","m":0.03,"lo":0,"hi":0.2},
{"c":"SIN","d":"10-12","m":0.02,"lo":0,"hi":0.05,"fl":0,"fh":0.08},
{"c":"SIN","d":"10-16","m":0.02,"fl":0,"fh":0.08},
{"c":"SIN","d":"10-20","m":0.02,"fl":0,"fh":0.08}
]},
"columns":3,
"bounds":"flush",
"spacing":{"row":15.3,"column":15.6},
"concat":[
{"title":{"text":"Bogotá D.C.","dx":-6},"transform":[{"filter":"datum.c=='BOG'"}],"encoding":{"x":{"field":"d","type":"temporal","title":null,"scale":{"domain":[{"year":1900,"month":"feb","date":27},{"year":1900,"month":"oct","date":23}]},"axis":{"format":"%b","tickCount":"month"}}},"layer":[
{"transform":[{"filter":"isValid(datum.lo)"}],"mark":{"type":"area","color":"#c8c8c8"},"encoding":{"y":{"field":"lo","type":"quantitative","scale":{"domain":[-0.167,1.72],"nice":false,"zero":false},"axis":{"title":"Deaths per 100,000","values":[0,0.5,1,1.5],"format":".2f"}},"y2":{"field":"hi"}}},
{"transform":[{"filter":"isValid(datum.fl)"}],"mark":{"type":"area","color":"#f5c5b5"},"encoding":{"y":{"field":"fl","type":"quantitative"},"y2":{"field":"fh"}}},
{"transform":[{"filter":"isValid(datum.m)"}],"mark":{"type":"line","color":"#1a1a1a","strokeWidth":0.9},"encoding":{"y":{"field":"m","type":"quantitative"}}},
{"transform":[{"filter":"isValid(datum.o)"}],"mark":{"type":"tick","color":"#b5281f","size":3,"thickness":1},"encoding":{"y":{"field":"o","type":"quantitative"}}}]},
{"title":"Cali","transform":[{"filter":"datum.c=='CAL'"}],"encoding":{"x":{"field":"d","type":"temporal","title":null,"scale":{"domain":[{"year":1900,"month":"feb","date":27},{"year":1900,"month":"oct","date":23}]},"axis":{"format":"%b","tickCount":"month"}}},"layer":[
{"transform":[{"filter":"isValid(datum.lo)"}],"mark":{"type":"area","color":"#c8c8c8"},"encoding":{"y":{"field":"lo","type":"quantitative","scale":{"domain":[-0.167,1.72],"nice":false,"zero":false},"axis":{"title":"Deaths per 100,000","values":[0,0.5,1,1.5],"labels":false,"titlePadding":0.5}},"y2":{"field":"hi"}}},
{"transform":[{"filter":"isValid(datum.fl)"}],"mark":{"type":"area","color":"#f5c5b5"},"encoding":{"y":{"field":"fl","type":"quantitative"},"y2":{"field":"fh"}}},
{"transform":[{"filter":"isValid(datum.m)"}],"mark":{"type":"line","color":"#1a1a1a","strokeWidth":0.9},"encoding":{"y":{"field":"m","type":"quantitative"}}},
{"transform":[{"filter":"isValid(datum.o)"}],"mark":{"type":"tick","color":"#b5281f","size":3,"thickness":1},"encoding":{"y":{"field":"o","type":"quantitative"}}}]},
{"title":"Medellín","transform":[{"filter":"datum.c=='MED'"}],"encoding":{"x":{"field":"d","type":"temporal","title":null,"scale":{"domain":[{"year":1900,"month":"feb","date":27},{"year":1900,"month":"oct","date":23}]},"axis":{"format":"%b","tickCount":"month"}}},"layer":[
{"transform":[{"filter":"isValid(datum.lo)"}],"mark":{"type":"area","color":"#c8c8c8"},"encoding":{"y":{"field":"lo","type":"quantitative","scale":{"domain":[-0.167,1.72],"nice":false,"zero":false},"axis":{"title":"Deaths per 100,000","values":[0,0.5,1,1.5],"labels":false,"titlePadding":0.5}},"y2":{"field":"hi"}}},
{"transform":[{"filter":"isValid(datum.fl)"}],"mark":{"type":"area","color":"#f5c5b5"},"encoding":{"y":{"field":"fl","type":"quantitative"},"y2":{"field":"fh"}}},
{"transform":[{"filter":"isValid(datum.m)"}],"mark":{"type":"line","color":"#1a1a1a","strokeWidth":0.9},"encoding":{"y":{"field":"m","type":"quantitative"}}},
{"transform":[{"filter":"isValid(datum.o)"}],"mark":{"type":"tick","color":"#b5281f","size":3,"thickness":1},"encoding":{"y":{"field":"o","type":"quantitative"}}}]},
{"title":{"text":"Barranquilla","dx":-6},"transform":[{"filter":"datum.c=='BAQ'"}],"encoding":{"x":{"field":"d","type":"temporal","title":null,"scale":{"domain":[{"year":1900,"month":"feb","date":27},{"year":1900,"month":"oct","date":23}]},"axis":{"format":"%b","tickCount":"month"}}},"layer":[
{"transform":[{"filter":"isValid(datum.lo)"}],"mark":{"type":"area","color":"#c8c8c8"},"encoding":{"y":{"field":"lo","type":"quantitative","scale":{"domain":[-0.27,4.09],"nice":false,"zero":false},"axis":{"title":"Deaths per 100,000","values":[0,1,2,3,4],"format":".2f"}},"y2":{"field":"hi"}}},
{"transform":[{"filter":"isValid(datum.fl)"}],"mark":{"type":"area","color":"#f5c5b5"},"encoding":{"y":{"field":"fl","type":"quantitative"},"y2":{"field":"fh"}}},
{"transform":[{"filter":"isValid(datum.m)"}],"mark":{"type":"line","color":"#1a1a1a","strokeWidth":0.9},"encoding":{"y":{"field":"m","type":"quantitative"}}},
{"transform":[{"filter":"isValid(datum.o)"}],"mark":{"type":"tick","color":"#b5281f","size":3,"thickness":1},"encoding":{"y":{"field":"o","type":"quantitative"}}}]},
{"title":"Cúcuta","transform":[{"filter":"datum.c=='CUC'"}],"encoding":{"x":{"field":"d","type":"temporal","title":null,"scale":{"domain":[{"year":1900,"month":"feb","date":27},{"year":1900,"month":"oct","date":23}]},"axis":{"format":"%b","tickCount":"month"}}},"layer":[
{"transform":[{"filter":"isValid(datum.lo)"}],"mark":{"type":"area","color":"#c8c8c8"},"encoding":{"y":{"field":"lo","type":"quantitative","scale":{"domain":[-0.27,4.09],"nice":false,"zero":false},"axis":{"title":"Deaths per 100,000","values":[0,1,2,3,4],"labels":false,"titlePadding":0.5}},"y2":{"field":"hi"}}},
{"transform":[{"filter":"isValid(datum.fl)"}],"mark":{"type":"area","color":"#f5c5b5"},"encoding":{"y":{"field":"fl","type":"quantitative"},"y2":{"field":"fh"}}},
{"transform":[{"filter":"isValid(datum.m)"}],"mark":{"type":"line","color":"#1a1a1a","strokeWidth":0.9},"encoding":{"y":{"field":"m","type":"quantitative"}}},
{"transform":[{"filter":"isValid(datum.o)"}],"mark":{"type":"tick","color":"#b5281f","size":3,"thickness":1},"encoding":{"y":{"field":"o","type":"quantitative"}}}]},
{"title":"Bucaramanga","transform":[{"filter":"datum.c=='BUC'"}],"encoding":{"x":{"field":"d","type":"temporal","title":null,"scale":{"domain":[{"year":1900,"month":"feb","date":27},{"year":1900,"month":"oct","date":23}]},"axis":{"format":"%b","tickCount":"month"}}},"layer":[
{"transform":[{"filter":"isValid(datum.lo)"}],"mark":{"type":"area","color":"#c8c8c8"},"encoding":{"y":{"field":"lo","type":"quantitative","scale":{"domain":[-0.27,4.09],"nice":false,"zero":false},"axis":{"title":"Deaths per 100,000","values":[0,1,2,3,4],"labels":false,"titlePadding":0.5}},"y2":{"field":"hi"}}},
{"transform":[{"filter":"isValid(datum.fl)"}],"mark":{"type":"area","color":"#f5c5b5"},"encoding":{"y":{"field":"fl","type":"quantitative"},"y2":{"field":"fh"}}},
{"transform":[{"filter":"isValid(datum.m)"}],"mark":{"type":"line","color":"#1a1a1a","strokeWidth":0.9},"encoding":{"y":{"field":"m","type":"quantitative"}}},
{"transform":[{"filter":"isValid(datum.o)"}],"mark":{"type":"tick","color":"#b5281f","size":3,"thickness":1},"encoding":{"y":{"field":"o","type":"quantitative"}}}]},
{"title":{"text":"Montería","dx":-6},"transform":[{"filter":"datum.c=='MTR'"}],"encoding":{"x":{"field":"d","type":"temporal","title":null,"scale":{"domain":[{"year":1900,"month":"feb","date":27},{"year":1900,"month":"oct","date":23}]},"axis":{"format":"%b","tickCount":"month"}}},"layer":[
{"transform":[{"filter":"isValid(datum.lo)"}],"mark":{"type":"area","color":"#c8c8c8"},"encoding":{"y":{"field":"lo","type":"quantitative","scale":{"domain":[-0.4,6.11],"nice":false,"zero":false},"axis":{"title":"Deaths per 100,000","values":[0,2,4,6],"format":".2f"}},"y2":{"field":"hi"}}},
{"transform":[{"filter":"isValid(datum.fl)"}],"mark":{"type":"area","color":"#f5c5b5"},"encoding":{"y":{"field":"fl","type":"quantitative"},"y2":{"field":"fh"}}},
{"transform":[{"filter":"isValid(datum.m)"}],"mark":{"type":"line","color":"#1a1a1a","strokeWidth":0.9},"encoding":{"y":{"field":"m","type":"quantitative"}}},
{"transform":[{"filter":"isValid(datum.o)"}],"mark":{"type":"tick","color":"#b5281f","size":3,"thickness":1},"encoding":{"y":{"field":"o","type":"quantitative"}}}]},
{"title":"Soledad","transform":[{"filter":"datum.c=='SOL'"}],"encoding":{"x":{"field":"d","type":"temporal","title":null,"scale":{"domain":[{"year":1900,"month":"feb","date":27},{"year":1900,"month":"oct","date":23}]},"axis":{"format":"%b","tickCount":"month"}}},"layer":[
{"transform":[{"filter":"isValid(datum.lo)"}],"mark":{"type":"area","color":"#c8c8c8"},"encoding":{"y":{"field":"lo","type":"quantitative","scale":{"domain":[-0.4,6.11],"nice":false,"zero":false},"axis":{"title":"Deaths per 100,000","values":[0,2,4,6],"labels":false,"titlePadding":0.5}},"y2":{"field":"hi"}}},
{"transform":[{"filter":"isValid(datum.fl)"}],"mark":{"type":"area","color":"#f5c5b5"},"encoding":{"y":{"field":"fl","type":"quantitative"},"y2":{"field":"fh"}}},
{"transform":[{"filter":"isValid(datum.m)"}],"mark":{"type":"line","color":"#1a1a1a","strokeWidth":0.9},"encoding":{"y":{"field":"m","type":"quantitative"}}},
{"transform":[{"filter":"isValid(datum.o)"}],"mark":{"type":"tick","color":"#b5281f","size":3,"thickness":1},"encoding":{"y":{"field":"o","type":"quantitative"}}}]},
{"title":"Cartagena de Indias","transform":[{"filter":"datum.c=='CTG'"}],"encoding":{"x":{"field":"d","type":"temporal","title":null,"scale":{"domain":[{"year":1900,"month":"feb","date":27},{"year":1900,"month":"oct","date":23}]},"axis":{"format":"%b","tickCount":"month"}}},"layer":[
{"transform":[{"filter":"isValid(datum.lo)"}],"mark":{"type":"area","color":"#c8c8c8"},"encoding":{"y":{"field":"lo","type":"quantitative","scale":{"domain":[-0.4,6.11],"nice":false,"zero":false},"axis":{"title":"Deaths per 100,000","values":[0,2,4,6],"labels":false,"titlePadding":0.5}},"y2":{"field":"hi"}}},
{"transform":[{"filter":"isValid(datum.fl)"}],"mark":{"type":"area","color":"#f5c5b5"},"encoding":{"y":{"field":"fl","type":"quantitative"},"y2":{"field":"fh"}}},
{"transform":[{"filter":"isValid(datum.m)"}],"mark":{"type":"line","color":"#1a1a1a","strokeWidth":0.9},"encoding":{"y":{"field":"m","type":"quantitative"}}},
{"transform":[{"filter":"isValid(datum.o)"}],"mark":{"type":"tick","color":"#b5281f","size":3,"thickness":1},"encoding":{"y":{"field":"o","type":"quantitative"}}}]},
{"title":{"text":"Ibagué","dx":-6},"transform":[{"filter":"datum.c=='IBG'"}],"encoding":{"x":{"field":"d","type":"temporal","title":null,"scale":{"domain":[{"year":1900,"month":"feb","date":27},{"year":1900,"month":"oct","date":23}]},"axis":{"format":"%b","tickCount":"month"}}},"layer":[
{"transform":[{"filter":"isValid(datum.lo)"}],"mark":{"type":"area","color":"#c8c8c8"},"encoding":{"y":{"field":"lo","type":"quantitative","scale":{"domain":[-0.55,9.5],"nice":false,"zero":false},"axis":{"title":"Deaths per 100,000","values":[0,2,4,6,8],"format":".2f"}},"y2":{"field":"hi"}}},
{"transform":[{"filter":"isValid(datum.fl)"}],"mark":{"type":"area","color":"#f5c5b5"},"encoding":{"y":{"field":"fl","type":"quantitative"},"y2":{"field":"fh"}}},
{"transform":[{"filter":"isValid(datum.m)"}],"mark":{"type":"line","color":"#1a1a1a","strokeWidth":0.9},"encoding":{"y":{"field":"m","type":"quantitative"}}},
{"transform":[{"filter":"isValid(datum.o)"}],"mark":{"type":"tick","color":"#b5281f","size":3,"thickness":1},"encoding":{"y":{"field":"o","type":"quantitative"}}}]},
{"title":"Neiva","transform":[{"filter":"datum.c=='NEI'"}],"encoding":{"x":{"field":"d","type":"temporal","title":null,"scale":{"domain":[{"year":1900,"month":"feb","date":27},{"year":1900,"month":"oct","date":23}]},"axis":{"format":"%b","tickCount":"month"}}},"layer":[
{"transform":[{"filter":"isValid(datum.lo)"}],"mark":{"type":"area","color":"#c8c8c8"},"encoding":{"y":{"field":"lo","type":"quantitative","scale":{"domain":[-0.55,9.5],"nice":false,"zero":false},"axis":{"title":"Deaths per 100,000","values":[0,2,4,6,8],"labels":false,"titlePadding":0.5}},"y2":{"field":"hi"}}},
{"transform":[{"filter":"isValid(datum.fl)"}],"mark":{"type":"area","color":"#f5c5b5"},"encoding":{"y":{"field":"fl","type":"quantitative"},"y2":{"field":"fh"}}},
{"transform":[{"filter":"isValid(datum.m)"}],"mark":{"type":"line","color":"#1a1a1a","strokeWidth":0.9},"encoding":{"y":{"field":"m","type":"quantitative"}}},
{"transform":[{"filter":"isValid(datum.o)"}],"mark":{"type":"tick","color":"#b5281f","size":3,"thickness":1},"encoding":{"y":{"field":"o","type":"quantitative"}}}]},
{"title":"Santa Marta","transform":[{"filter":"datum.c=='SMR'"}],"encoding":{"x":{"field":"d","type":"temporal","title":null,"scale":{"domain":[{"year":1900,"month":"feb","date":27},{"year":1900,"month":"oct","date":23}]},"axis":{"format":"%b","tickCount":"month"}}},"layer":[
{"transform":[{"filter":"isValid(datum.lo)"}],"mark":{"type":"area","color":"#c8c8c8"},"encoding":{"y":{"field":"lo","type":"quantitative","scale":{"domain":[-0.55,9.5],"nice":false,"zero":false},"axis":{"title":"Deaths per 100,000","values":[0,2,4,6,8],"labels":false,"titlePadding":0.5}},"y2":{"field":"hi"}}},
{"transform":[{"filter":"isValid(datum.fl)"}],"mark":{"type":"area","color":"#f5c5b5"},"encoding":{"y":{"field":"fl","type":"quantitative"},"y2":{"field":"fh"}}},
{"transform":[{"filter":"isValid(datum.m)"}],"mark":{"type":"line","color":"#1a1a1a","strokeWidth":0.9},"encoding":{"y":{"field":"m","type":"quantitative"}}},
{"transform":[{"filter":"isValid(datum.o)"}],"mark":{"type":"tick","color":"#b5281f","size":3,"thickness":1},"encoding":{"y":{"field":"o","type":"quantitative"}}}]},
{"title":{"text":"Valledupar","dx":-6},"transform":[{"filter":"datum.c=='VDP'"}],"encoding":{"x":{"field":"d","type":"temporal","title":null,"scale":{"domain":[{"year":1900,"month":"feb","date":27},{"year":1900,"month":"oct","date":23}]},"axis":{"format":"%b","tickCount":"month"}}},"layer":[
{"transform":[{"filter":"isValid(datum.lo)"}],"mark":{"type":"area","color":"#c8c8c8"},"encoding":{"y":{"field":"lo","type":"quantitative","scale":{"domain":[-0.27,4.09],"nice":false,"zero":false},"axis":{"title":"Deaths per 100,000","values":[0,1,2,3,4],"format":".2f"}},"y2":{"field":"hi"}}},
{"transform":[{"filter":"isValid(datum.fl)"}],"mark":{"type":"area","color":"#f5c5b5"},"encoding":{"y":{"field":"fl","type":"quantitative"},"y2":{"field":"fh"}}},
{"transform":[{"filter":"isValid(datum.m)"}],"mark":{"type":"line","color":"#1a1a1a","strokeWidth":0.9},"encoding":{"y":{"field":"m","type":"quantitative"}}},
{"transform":[{"filter":"isValid(datum.o)"}],"mark":{"type":"tick","color":"#b5281f","size":3,"thickness":1},"encoding":{"y":{"field":"o","type":"quantitative"}}}]},
{"title":"Pasto","transform":[{"filter":"datum.c=='PST'"}],"encoding":{"x":{"field":"d","type":"temporal","title":null,"scale":{"domain":[{"year":1900,"month":"feb","date":27},{"year":1900,"month":"oct","date":23}]},"axis":{"format":"%b","tickCount":"month"}}},"layer":[
{"transform":[{"filter":"isValid(datum.lo)"}],"mark":{"type":"area","color":"#c8c8c8"},"encoding":{"y":{"field":"lo","type":"quantitative","scale":{"domain":[-0.27,4.09],"nice":false,"zero":false},"axis":{"title":"Deaths per 100,000","values":[0,1,2,3,4],"labels":false,"titlePadding":0.5}},"y2":{"field":"hi"}}},
{"transform":[{"filter":"isValid(datum.fl)"}],"mark":{"type":"area","color":"#f5c5b5"},"encoding":{"y":{"field":"fl","type":"quantitative"},"y2":{"field":"fh"}}},
{"transform":[{"filter":"isValid(datum.m)"}],"mark":{"type":"line","color":"#1a1a1a","strokeWidth":0.9},"encoding":{"y":{"field":"m","type":"quantitative"}}},
{"transform":[{"filter":"isValid(datum.o)"}],"mark":{"type":"tick","color":"#b5281f","size":3,"thickness":1},"encoding":{"y":{"field":"o","type":"quantitative"}}}]},
{"title":"Villavicencio","transform":[{"filter":"datum.c=='VVC'"}],"encoding":{"x":{"field":"d","type":"temporal","title":null,"scale":{"domain":[{"year":1900,"month":"feb","date":27},{"year":1900,"month":"oct","date":23}]},"axis":{"format":"%b","tickCount":"month"}}},"layer":[
{"transform":[{"filter":"isValid(datum.lo)"}],"mark":{"type":"area","color":"#c8c8c8"},"encoding":{"y":{"field":"lo","type":"quantitative","scale":{"domain":[-0.27,4.09],"nice":false,"zero":false},"axis":{"title":"Deaths per 100,000","values":[0,1,2,3,4],"labels":false,"titlePadding":0.5}},"y2":{"field":"hi"}}},
{"transform":[{"filter":"isValid(datum.fl)"}],"mark":{"type":"area","color":"#f5c5b5"},"encoding":{"y":{"field":"fl","type":"quantitative"},"y2":{"field":"fh"}}},
{"transform":[{"filter":"isValid(datum.m)"}],"mark":{"type":"line","color":"#1a1a1a","strokeWidth":0.9},"encoding":{"y":{"field":"m","type":"quantitative"}}},
{"transform":[{"filter":"isValid(datum.o)"}],"mark":{"type":"tick","color":"#b5281f","size":3,"thickness":1},"encoding":{"y":{"field":"o","type":"quantitative"}}}]},
{"title":{"text":"Soacha","dx":-6},"transform":[{"filter":"datum.c=='SOA'"}],"encoding":{"x":{"field":"d","type":"temporal","title":null,"scale":{"domain":[{"year":1900,"month":"feb","date":27},{"year":1900,"month":"oct","date":23}]},"axis":{"format":"%b","tickCount":"month"}}},"layer":[
{"transform":[{"filter":"isValid(datum.lo)"}],"mark":{"type":"area","color":"#c8c8c8"},"encoding":{"y":{"field":"lo","type":"quantitative","scale":{"domain":[-0.32,5.38],"nice":false,"zero":false},"axis":{"title":"Deaths per 100,000","values":[0,1,2,3,4,5],"format":".2f"}},"y2":{"field":"hi"}}},
{"transform":[{"filter":"isValid(datum.fl)"}],"mark":{"type":"area","color":"#f5c5b5"},"encoding":{"y":{"field":"fl","type":"quantitative"},"y2":{"field":"fh"}}},
{"transform":[{"filter":"isValid(datum.m)"}],"mark":{"type":"line","color":"#1a1a1a","strokeWidth":0.9},"encoding":{"y":{"field":"m","type":"quantitative"}}},
{"transform":[{"filter":"isValid(datum.o)"}],"mark":{"type":"tick","color":"#b5281f","size":3,"thickness":1},"encoding":{"y":{"field":"o","type":"quantitative"}}}]},
{"title":"Pereira","transform":[{"filter":"datum.c=='PEI'"}],"encoding":{"x":{"field":"d","type":"temporal","title":null,"scale":{"domain":[{"year":1900,"month":"feb","date":27},{"year":1900,"month":"oct","date":23}]},"axis":{"format":"%b","tickCount":"month"}}},"layer":[
{"transform":[{"filter":"isValid(datum.lo)"}],"mark":{"type":"area","color":"#c8c8c8"},"encoding":{"y":{"field":"lo","type":"quantitative","scale":{"domain":[-0.32,5.38],"nice":false,"zero":false},"axis":{"title":"Deaths per 100,000","values":[0,1,2,3,4,5],"labels":false,"titlePadding":0.5}},"y2":{"field":"hi"}}},
{"transform":[{"filter":"isValid(datum.fl)"}],"mark":{"type":"area","color":"#f5c5b5"},"encoding":{"y":{"field":"fl","type":"quantitative"},"y2":{"field":"fh"}}},
{"transform":[{"filter":"isValid(datum.m)"}],"mark":{"type":"line","color":"#1a1a1a","strokeWidth":0.9},"encoding":{"y":{"field":"m","type":"quantitative"}}},
{"transform":[{"filter":"isValid(datum.o)"}],"mark":{"type":"tick","color":"#b5281f","size":3,"thickness":1},"encoding":{"y":{"field":"o","type":"quantitative"}}}]},
{"title":"Sincelejo","transform":[{"filter":"datum.c=='SIN'"}],"encoding":{"x":{"field":"d","type":"temporal","title":null,"scale":{"domain":[{"year":1900,"month":"feb","date":27},{"year":1900,"month":"oct","date":23}]},"axis":{"format":"%b","tickCount":"month"}}},"layer":[
{"transform":[{"filter":"isValid(datum.lo)"}],"mark":{"type":"area","color":"#c8c8c8"},"encoding":{"y":{"field":"lo","type":"quantitative","scale":{"domain":[-0.32,5.38],"nice":false,"zero":false},"axis":{"title":"Deaths per 100,000","values":[0,1,2,3,4,5],"labels":false,"titlePadding":0.5}},"y2":{"field":"hi"}}},
{"transform":[{"filter":"isValid(datum.fl)"}],"mark":{"type":"area","color":"#f5c5b5"},"encoding":{"y":{"field":"fl","type":"quantitative"},"y2":{"field":"fh"}}},
{"transform":[{"filter":"isValid(datum.m)"}],"mark":{"type":"line","color":"#1a1a1a","strokeWidth":0.9},"encoding":{"y":{"field":"m","type":"quantitative"}}},
{"transform":[{"filter":"isValid(datum.o)"}],"mark":{"type":"tick","color":"#b5281f","size":3,"thickness":1},"encoding":{"y":{"field":"o","type":"quantitative"}}}]}
],
"config":{
"font":"DejaVu Sans",
"view":{"stroke":null,"continuousWidth":209,"continuousHeight":60},
"axis":{"labelFontSize":4.6,"titleFontSize":4.7,"titleFontWeight":"normal","labelColor":"#444","titleColor":"#444","tickSize":2,"tickColor":"#bbb","tickWidth":0.6,"labelPadding":1,"gridColor":"#e2e2e2","gridWidth":0.7,"domain":false,"titlePadding":2,"labelOverlap":false},
"axisX":{"grid":false,"domain":true,"domainColor":"#bbb","domainWidth":0.6,"ticks":false,"labelPadding":1.5},
"title":{"fontSize":4.8,"fontWeight":"normal","anchor":"start","offset":1,"color":"#333","frame":"group","dx":-2},
"tick":{"orient":"horizontal"}
}
}
